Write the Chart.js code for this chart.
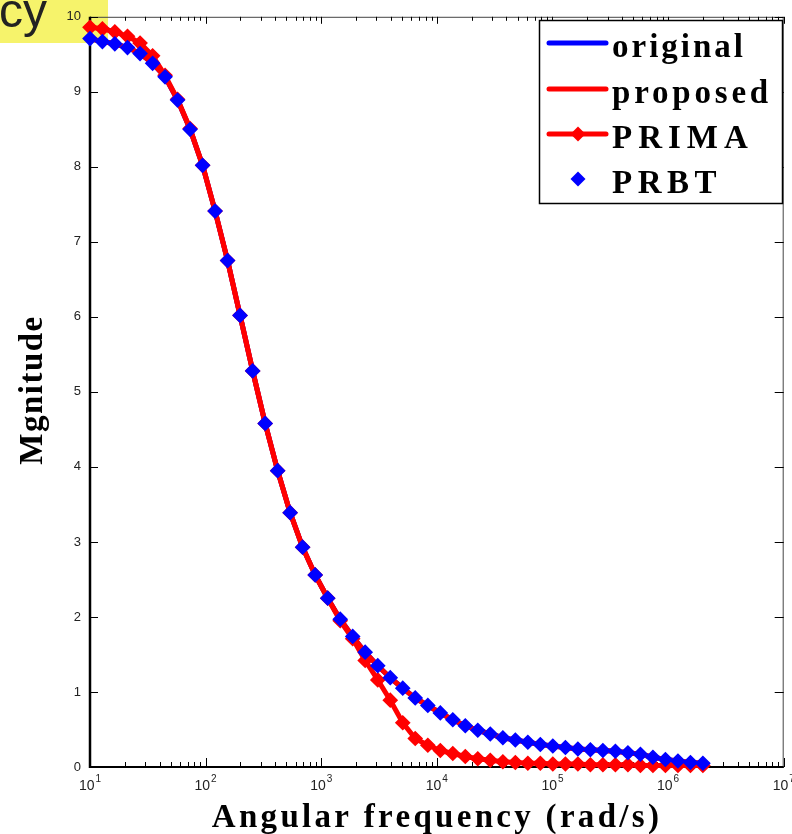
<!DOCTYPE html>
<html>
<head>
<meta charset="utf-8">
<script src="https://cdn.jsdelivr.net/npm/chart.js@4.4.1/dist/chart.umd.min.js"></script>
<style>
  html, body { margin: 0; padding: 0; background: #fff; }
  #wrap { width: 792px; height: 834px; }
</style>
</head>
<body>
<div id="wrap"><canvas id="myChart" width="792" height="834"></canvas></div>
<script>
// frequency samples (rad/s), log spaced 10 .. 2e6
const freq = [10, 12.8, 16.4, 21.1, 27.1, 34.8, 44.6, 57.2, 73.4, 94.2,
  120.8, 154.9, 198.6, 255.3, 327.3, 419.8, 538.3, 690.2, 887.2, 1138,
  1459, 1871, 2399, 3083, 3953, 5070, 6501, 8356, 10715, 13740,
  17620, 22594, 28973, 37239, 47753, 61235, 78524, 100693, 129420, 165851,
  212772, 272969, 350196, 449273, 576380, 739448, 948650, 1217040, 1561360, 2000000];

// magnitude of the original system (proposed and PRBT lie on it)
const original = [9.71, 9.67, 9.64, 9.59, 9.51, 9.38, 9.20, 8.89, 8.50, 8.02,
  7.41, 6.75, 6.02, 5.28, 4.58, 3.95, 3.39, 2.93, 2.56, 2.25,
  1.97, 1.74, 1.53, 1.35, 1.19, 1.05, 0.92, 0.82, 0.72, 0.63,
  0.55, 0.49, 0.44, 0.39, 0.36, 0.33, 0.30, 0.28, 0.26, 0.24,
  0.23, 0.22, 0.21, 0.19, 0.17, 0.13, 0.10, 0.08, 0.06, 0.05];
const proposed = original;
const prbt = original;

const prima = [9.86, 9.84, 9.80, 9.74, 9.65, 9.48, 9.22, 8.90, 8.51, 8.02,
  7.41, 6.75, 6.02, 5.28, 4.58, 3.95, 3.39, 2.93, 2.56, 2.25,
  1.95, 1.71, 1.42, 1.16, 0.89, 0.59, 0.38, 0.29, 0.22, 0.18,
  0.14, 0.11, 0.09, 0.07, 0.06, 0.05, 0.05, 0.04, 0.04, 0.04,
  0.03, 0.03, 0.03, 0.03, 0.02, 0.02, 0.02, 0.02, 0.02, 0.02];

const yTicks = [0, 1, 2, 3, 4, 5, 6, 7, 8, 9, 10];
const xDecades = [1, 2, 3, 4, 5, 6, 7];
const legendLabels = ['original', 'proposed', 'PRIMA', 'PRBT'];

const BLUE = '#0000ff';
const RED = '#ff0000';
const sans = '"Liberation Sans", Arial, sans-serif';
const serif = '"Liberation Serif", "Times New Roman", serif';

function pts(vals) {
  return freq.map((f, i) => ({ x: f, y: vals[i] }));
}

function diamond(c, x, y, r, color) {
  c.fillStyle = color;
  c.beginPath();
  c.moveTo(x, y - r); c.lineTo(x + r, y); c.lineTo(x, y + r); c.lineTo(x - r, y);
  c.closePath();
  c.fill();
}

const matlabLook = {
  id: 'matlabLook',
  beforeDraw(chart) {
    const c = chart.ctx;
    c.save();
    c.fillStyle = '#fff';
    c.fillRect(0, 0, chart.width, chart.height);
    // highlighted fragment of the caption above
    c.fillStyle = '#f6f36b';
    c.fillRect(0, 0, 108, 43);
    c.fillStyle = '#222';
    c.font = '48px ' + sans;
    c.textBaseline = 'alphabetic';
    c.fillText('cy', -1, 27);
    c.restore();
  },
  beforeDatasetsDraw(chart) {
    const { ctx: c, chartArea: a, scales: { x, y } } = chart;
    c.save();
    // box
    c.strokeStyle = '#444';
    c.lineWidth = 1;
    c.beginPath();
    c.moveTo(a.left, a.top + 0.5); c.lineTo(a.right, a.top + 0.5);
    c.moveTo(a.right - 0.5, a.top); c.lineTo(a.right - 0.5, a.bottom);
    c.stroke();
    c.strokeStyle = '#000';
    c.lineWidth = 2.5;
    c.beginPath();
    c.moveTo(a.left, a.top); c.lineTo(a.left, a.bottom + 1);
    c.stroke();
    c.lineWidth = 2;
    c.beginPath();
    c.moveTo(a.left, a.bottom); c.lineTo(a.right, a.bottom);
    c.stroke();

    // inward ticks, x (log)
    c.lineWidth = 1;
    c.strokeStyle = '#000';
    c.beginPath();
    for (let d = 1; d <= 7; d++) {
      for (let m = 1; m <= 9; m++) {
        if (d === 7 && m > 1) break;
        const px = Math.round(x.getPixelForValue(m * Math.pow(10, d))) + 0.5;
        const big = m === 1;
        c.moveTo(px, a.bottom); c.lineTo(px, a.bottom - (big ? 9 : 5));
        c.moveTo(px, a.top); c.lineTo(px, a.top + (big ? 7 : 4));
      }
    }
    // inward ticks, y
    yTicks.forEach(v => {
      const py = Math.round(y.getPixelForValue(v)) + 0.5;
      c.moveTo(a.left, py); c.lineTo(a.left + 8, py);
      c.moveTo(a.right, py); c.lineTo(a.right - 9, py);
    });
    c.stroke();

    // x tick labels 10^n
    c.fillStyle = '#222';
    c.textBaseline = 'alphabetic';
    xDecades.forEach(e => {
      const px = x.getPixelForValue(Math.pow(10, e));
      c.font = '14px ' + sans;
      const wb = c.measureText('10').width;
      c.font = '10px ' + sans;
      const we = c.measureText(String(e)).width;
      const x0 = px - (wb + we + 1) / 2;
      c.font = '14px ' + sans;
      c.fillText('10', x0, 790);
      c.font = '10px ' + sans;
      c.fillText(String(e), x0 + wb + 1, 782);
    });

    // axis titles
    c.fillStyle = '#000';
    c.font = 'bold 33px ' + serif;
    c.letterSpacing = '3.3px';
    c.textAlign = 'center';
    c.fillText('Angular frequency (rad/s)', 437, 827);
    c.letterSpacing = '1.5px';
    c.translate(42, 390);
    c.rotate(-Math.PI / 2);
    c.fillText('Mgnitude', 0, 0);
    c.restore();
  },
  afterDraw(chart) {
    const c = chart.ctx;
    c.save();
    c.fillStyle = '#fff';
    c.fillRect(539, 20, 243, 183);
    c.strokeStyle = '#000';
    c.lineWidth = 1.5;
    c.strokeRect(539.5, 20.5, 243, 183);
    const rows = [43, 89, 134, 179];
    const colors = [BLUE, RED, RED, BLUE];
    const spacing = ['3px', '3.8px', '6px', '5.5px'];
    legendLabels.forEach((lab, i) => {
      const ry = rows[i];
      if (i < 3) {
        c.strokeStyle = colors[i];
        c.lineWidth = 5;
        c.lineCap = 'round';
        c.beginPath();
        c.moveTo(549, ry); c.lineTo(606, ry);
        c.stroke();
      }
      if (i >= 2) diamond(c, 578, ry, 7.5, colors[i]);
      c.fillStyle = '#000';
      c.font = 'bold 33px ' + serif;
      c.letterSpacing = spacing[i];
      c.textAlign = 'left';
      c.textBaseline = 'alphabetic';
      c.fillText(lab, 612, ry + 14);
    });
    c.restore();
  }
};

const ctx = document.getElementById('myChart').getContext('2d');
new Chart(ctx, {
  type: 'line',
  data: {
    datasets: [
      { label: 'original', data: pts(original), borderColor: BLUE, borderWidth: 5,
        pointRadius: 0, order: 3, clip: false, tension: 0, borderJoinStyle: 'round' },
      { label: 'proposed', data: pts(proposed), borderColor: RED, borderWidth: 5,
        pointRadius: 0, order: 2, clip: false, tension: 0, borderJoinStyle: 'round' },
      { label: 'PRIMA', data: pts(prima), borderColor: RED, backgroundColor: RED, borderWidth: 5,
        pointStyle: 'rectRot', pointRadius: 6.8, pointBorderWidth: 1.5,
        pointBackgroundColor: RED, pointBorderColor: RED,
        order: 1, clip: false, tension: 0, borderJoinStyle: 'round' },
      { label: 'PRBT', data: pts(prbt), showLine: false, borderColor: BLUE, backgroundColor: BLUE,
        pointStyle: 'rectRot', pointRadius: 6.8, pointBorderWidth: 1.5,
        pointBackgroundColor: BLUE, pointBorderColor: BLUE,
        order: 0, clip: false }
    ]
  },
  options: {
    responsive: false,
    animation: false,
    devicePixelRatio: 1,
    layout: { padding: { top: 11, right: 3, left: 0, bottom: 0 } },
    plugins: { legend: { display: false }, tooltip: { enabled: false }, title: { display: false } },
    scales: {
      x: {
        type: 'logarithmic', min: 10, max: 1e7,
        afterFit(s) { s.height = 67; },
        grid: { display: false, drawTicks: false },
        border: { display: false },
        ticks: { display: false }
      },
      y: {
        type: 'linear', min: 0, max: 10,
        afterFit(s) { s.width = 90; },
        grid: { display: false, drawTicks: false },
        border: { display: false },
        ticks: { stepSize: 1, padding: 9, color: '#222', font: { family: sans, size: 13 } }
      }
    }
  },
  plugins: [matlabLook]
});
</script>
</body>
</html>
